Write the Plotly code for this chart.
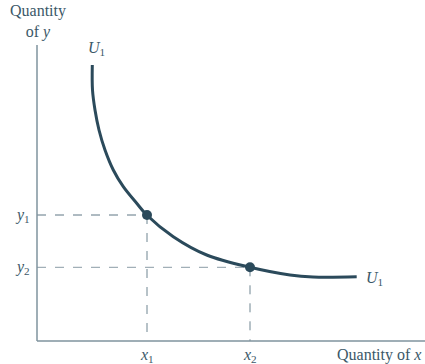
import plotly.graph_objects as go

# Indifference curve U1 (arbitrary units)
curve_x = [5.53, 5.55, 5.8, 6.2, 6.8, 7.63, 8.63, 9.97, 10.97, 13.63, 16.97, 21.3, 25.3, 27.6, 31.97]
curve_y = [27.6, 25.1, 23.1, 21.1, 19.1, 17.1, 15.43, 13.77, 12.6, 10.43, 8.6, 7.37, 6.6, 6.4, 6.42]

# Highlighted bundles
point_x = [11.0, 21.3]
point_y = [12.6, 7.37]
x_labels = ["<i>x</i><sub>1</sub>", "<i>x</i><sub>2</sub>"]
y_labels = ["<i>y</i><sub>1</sub>", "<i>y</i><sub>2</sub>"]

x_axis_end = 38.8
y_axis_top = 29.6

curve_color = "#2b4a5b"
axis_color = "#7f939e"
dash_colors = ["#5f7784", "#8a9ca6"]
text_color = "#3b5868"
FONT = "Liberation Serif"

fig = go.Figure()

# dashed guides
for px, py, dc in zip(point_x, point_y, dash_colors):
    fig.add_trace(go.Scatter(x=[0, px], y=[py, py], mode="lines",
                             line=dict(color=dc, width=1, dash="dash"),
                             hoverinfo="skip", showlegend=False))
    fig.add_trace(go.Scatter(x=[px, px], y=[py, 0], mode="lines",
                             line=dict(color="#6f8591", width=1, dash="dash"),
                             hoverinfo="skip", showlegend=False))

# axes
fig.add_trace(go.Scatter(x=[0, 0], y=[y_axis_top, 0], mode="lines",
                         line=dict(color=axis_color, width=1.5), showlegend=False))
fig.add_trace(go.Scatter(x=[0, x_axis_end], y=[0, 0], mode="lines",
                         line=dict(color=axis_color, width=1.5), showlegend=False))

# curve
fig.add_trace(go.Scatter(x=curve_x, y=curve_y, mode="lines",
                         line=dict(color=curve_color, width=3, shape="spline", smoothing=1.0),
                         showlegend=False))
fig.add_trace(go.Scatter(x=point_x, y=point_y, mode="markers",
                         marker=dict(color=curve_color, size=10), showlegend=False))

anns = []
def ann(x, y, text, xanchor="center", yanchor="middle", size=16):
    anns.append(dict(x=x, y=y, text=text, showarrow=False, xanchor=xanchor, yanchor=yanchor,
                     font=dict(family=FONT, size=size, color=text_color)))

for px, lab in zip(point_x, x_labels):
    ann(px, -1.4, lab)
for py, lab in zip(point_y, y_labels):
    ann(-0.5, py, lab, xanchor="right")

ann(0.1, 32.0, "Quantity<br>of <i>y</i>")
ann(curve_x[0] + 0.4, 29.3, "<i>U</i><sub>1</sub>")
ann(curve_x[-1] + 0.7, 6.3, "<i>U</i><sub>1</sub>", xanchor="left")
ann(x_axis_end - 0.2, -1.4, "Quantity of <i>x</i>", xanchor="right")

fig.update_layout(
    width=425, height=364,
    margin=dict(l=0, r=0, t=0, b=0),
    paper_bgcolor="white", plot_bgcolor="white",
    xaxis=dict(range=[-3.7, 38.8], visible=False, fixedrange=True),
    yaxis=dict(range=[-2.3, 34.1], visible=False, fixedrange=True),
    annotations=anns,
)

fig.write_html("out.html", config={"displayModeBar": False},
               post_script="document.body.style.margin='0';document.body.style.overflow='hidden';")
